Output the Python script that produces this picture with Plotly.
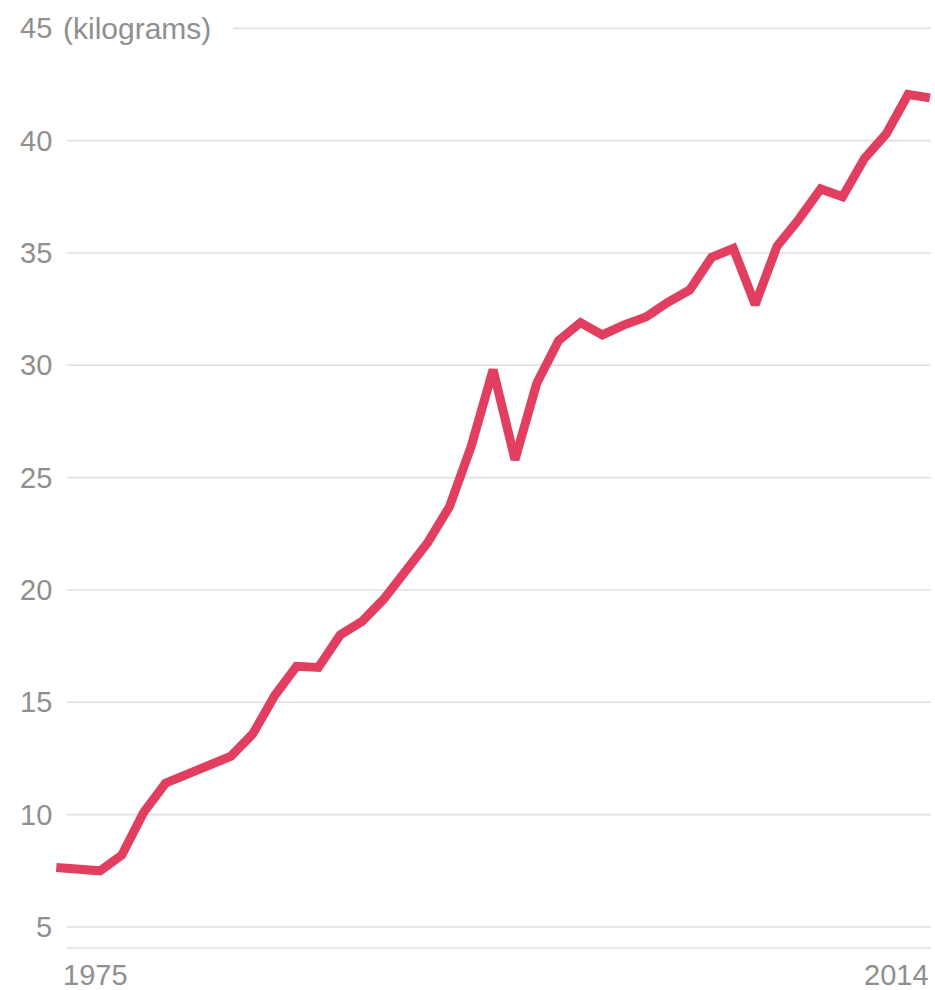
import plotly.graph_objects as go

# ---- data ----
years = [1975, 1976, 1977, 1978, 1979, 1980, 1981, 1982, 1983, 1984,
         1985, 1986, 1987, 1988, 1989, 1990, 1991, 1992, 1993, 1994,
         1995, 1996, 1997, 1998, 1999, 2000, 2001, 2002, 2003, 2004,
         2005, 2006, 2007, 2008, 2009, 2010, 2011, 2012, 2013, 2014,
         2015]
kilograms = [7.65, 7.6, 7.5, 8.2, 10.1, 11.4, 11.8, 12.3, 12.6, 13.6,
             15.3, 16.6, 16.55, 18.0, 18.6, 19.6, 20.8, 22.1, 23.7, 26.4,
             29.8, 25.8, 29.2, 31.1, 31.9, 31.35, 31.8, 32.15, 32.8, 33.35,
             34.8, 35.2, 32.7, 35.3, 36.5, 37.85, 37.5, 39.2, 40.3, 42.05,
             41.9]
y_ticks = [5, 10, 15, 20, 25, 30, 35, 40, 45]
y_tick_labels = ["5", "10", "15", "20", "25", "30", "35", "40", "45"]
y_unit_label = "(kilograms)"
x_tick_labels = ["1975", "2014"]

LINE_COLOR = "#e23f60"
GRID_COLOR = "#e0e0e0"
TEXT_COLOR = "#8f8f8f"
FONT = "Liberation Sans, Arial, sans-serif"
FSIZE = 29

W, H = 935, 990
L, R, T, B = 45, 0, 6, 42
plot_w = W - L - R

def px_to_paper(px):
    return (px - L) / plot_w

fig = go.Figure()
fig.add_trace(go.Scatter(
    x=years, y=kilograms, mode="lines",
    line=dict(color=LINE_COLOR, width=9),
    hoverinfo="skip", showlegend=False,
))

grid_x0 = px_to_paper(67)
grid_x1 = px_to_paper(931)
top_grid_x0 = px_to_paper(233)

shapes = []
for v in y_ticks:
    x0 = top_grid_x0 if v == y_ticks[-1] else grid_x0
    shapes.append(dict(type="line", xref="paper", yref="y", x0=x0, x1=grid_x1,
                       y0=v, y1=v, line=dict(color=GRID_COLOR, width=1.6),
                       layer="below"))
# baseline
shapes.append(dict(type="line", xref="paper", yref="paper", x0=grid_x0, x1=grid_x1,
                   y0=0, y1=0, line=dict(color=GRID_COLOR, width=1.6), layer="below"))

annotations = []
for v, t in zip(y_ticks, y_tick_labels):
    annotations.append(dict(xref="paper", yref="y", x=px_to_paper(53), y=v,
                            text=t, showarrow=False, xanchor="right", yanchor="middle",
                            borderpad=0,
                            font=dict(family=FONT, size=FSIZE, color=TEXT_COLOR)))
annotations.append(dict(xref="paper", yref="y", x=px_to_paper(62), y=y_ticks[-1],
                        text=y_unit_label, showarrow=False, xanchor="left", yanchor="middle",
                        borderpad=0,
                        font=dict(family=FONT, size=30, color=TEXT_COLOR)))
annotations.append(dict(xref="x", yref="paper", x=years[0], y=0, yshift=-27, xshift=6,
                        text=x_tick_labels[0], showarrow=False, xanchor="left",
                        yanchor="middle", borderpad=0,
                        font=dict(family=FONT, size=FSIZE, color=TEXT_COLOR)))
annotations.append(dict(xref="x", yref="paper", x=years[-1], y=0, yshift=-27,
                        text=x_tick_labels[1], showarrow=False, xanchor="right",
                        yanchor="middle", borderpad=0,
                        font=dict(family=FONT, size=FSIZE, color=TEXT_COLOR)))

px_per_year = 21.84
x_left = years[0] - (56.3 - L) / px_per_year
x_right = x_left + plot_w / px_per_year

fig.update_layout(
    width=W, height=H,
    margin=dict(l=L, r=R, t=T, b=B, pad=0),
    paper_bgcolor="white", plot_bgcolor="white",
    xaxis=dict(range=[x_left, x_right], showgrid=False, zeroline=False,
               showticklabels=False, showline=False, ticks=""),
    yaxis=dict(range=[4.065, 45.99], showgrid=False, zeroline=False,
               showticklabels=False, showline=False, ticks=""),
    shapes=shapes, annotations=annotations,
)

fig.write_html("out.html", config={"displayModeBar": False},
               post_script="document.body.style.margin='0';document.body.style.overflow='hidden';")
